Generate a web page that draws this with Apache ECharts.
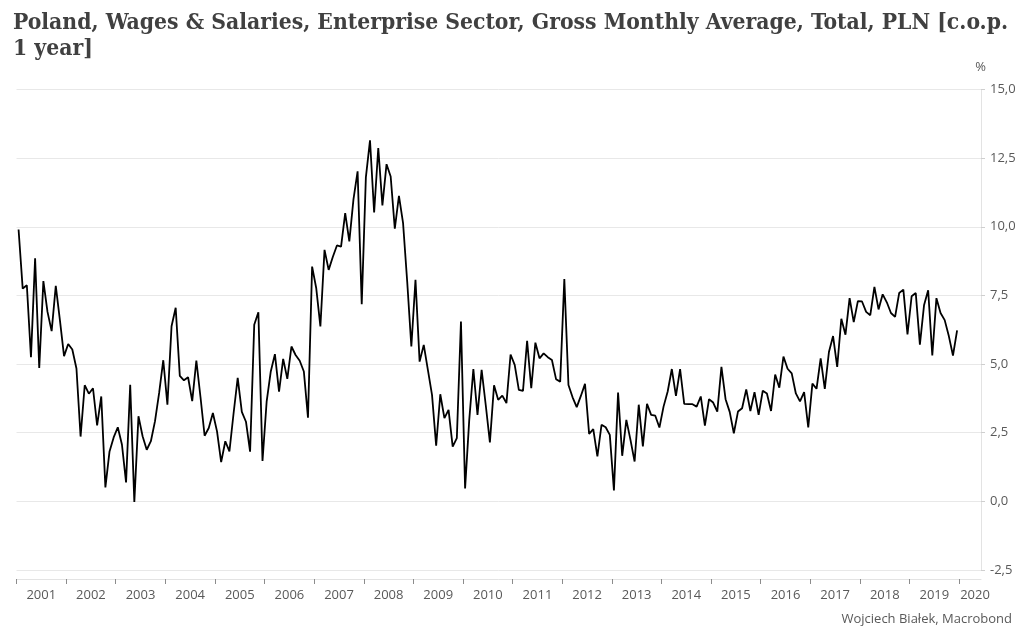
<!DOCTYPE html>
<html><head><meta charset="utf-8">
<script src="https://cdn.jsdelivr.net/npm/echarts@6/dist/echarts.min.js"></script>
<style>html,body{margin:0;padding:0;background:#fff}#c{width:1024px;height:641px}</style>
</head><body><div id="c"></div>
<script>
const titleText = 'Poland, Wages & Salaries, Enterprise Sector, Gross Monthly Average, Total, PLN [c.o.p.\n1 year]';
const sourceText = 'Wojciech Białek, Macrobond';
const unitText = '%';
const startYear = 2001;
const tickYears = [2001,2002,2003,2004,2005,2006,2007,2008,2009,2010,2011,2012,2013,2014,2015,2016,2017,2018,2019,2020];
const labelYears = [2001.5,2002.5,2003.5,2004.5,2005.5,2006.5,2007.5,2008.5,2009.5,2010.5,2011.5,2012.5,2013.5,2014.5,2015.5,2016.5,2017.5,2018.5,2019.5,2020.32];
const yTicks = [-2.5,0,2.5,5,7.5,10,12.5,15];

// monthly values, % y/y
const v2001 = [9.9, 7.75, 7.87, 5.25, 8.85, 4.86, 8.02, 6.9, 6.2, 7.85, 6.6, 5.29];
const v2002 = [5.73, 5.53, 4.84, 2.36, 4.23, 3.92, 4.12, 2.77, 3.82, 0.51, 1.82, 2.33];
const v2003 = [2.70, 2.07, 0.69, 4.25, -0.02, 3.10, 2.37, 1.88, 2.19, 2.92, 3.95, 5.14];
const v2004 = [3.52, 6.38, 7.05, 4.57, 4.41, 4.52, 3.65, 5.13, 3.8, 2.39, 2.67, 3.22];
const v2005 = [2.55, 1.43, 2.19, 1.82, 3.2, 4.50, 3.26, 2.9, 1.81, 6.43, 6.89, 1.47];
const v2006 = [3.63, 4.73, 5.36, 4.0, 5.19, 4.46, 5.64, 5.33, 5.12, 4.73, 3.05, 8.55];
const v2007 = [7.76, 6.37, 9.16, 8.43, 8.9, 9.32, 9.28, 10.50, 9.47, 11.0, 12.02, 7.18];
const v2008 = [11.8, 13.15, 10.52, 12.87, 10.78, 12.28, 11.83, 9.93, 11.13, 10.13, 8.0, 5.64];
const v2009 = [8.07, 5.09, 5.70, 4.79, 3.88, 2.03, 3.90, 3.03, 3.33, 1.99, 2.30, 6.55];
const v2010 = [0.47, 2.96, 4.82, 3.15, 4.79, 3.5, 2.15, 4.23, 3.70, 3.85, 3.58, 5.35];
const v2011 = [4.97, 4.06, 4.02, 5.85, 4.12, 5.78, 5.21, 5.39, 5.25, 5.15, 4.45, 4.36];
const v2012 = [8.10, 4.24, 3.79, 3.43, 3.84, 4.28, 2.46, 2.63, 1.64, 2.79, 2.70, 2.42];
const v2013 = [0.40, 3.96, 1.66, 2.97, 2.24, 1.45, 3.52, 2.0, 3.55, 3.15, 3.12, 2.69];
const v2014 = [3.45, 4.0, 4.82, 3.84, 4.82, 3.55, 3.54, 3.54, 3.45, 3.82, 2.76, 3.72];
const v2015 = [3.6, 3.27, 4.90, 3.72, 3.26, 2.48, 3.27, 3.39, 4.08, 3.29, 3.98, 3.15];
const v2016 = [4.03, 3.93, 3.29, 4.62, 4.14, 5.27, 4.83, 4.66, 3.93, 3.64, 3.98, 2.69];
const v2017 = [4.29, 4.10, 5.21, 4.10, 5.44, 6.02, 4.90, 6.65, 6.07, 7.40, 6.53, 7.29];
const v2018 = [7.28, 6.90, 6.78, 7.81, 6.99, 7.54, 7.25, 6.86, 6.72, 7.59, 7.71, 6.08];
const v2019 = [7.47, 7.59, 5.71, 7.14, 7.69, 5.31, 7.40, 6.86, 6.60, 6.02, 5.31, 6.23];

const values = [].concat(v2001,v2002,v2003,v2004,v2005,v2006,v2007,v2008,v2009,v2010,
  v2011,v2012,v2013,v2014,v2015,v2016,v2017,v2018,v2019);
const seriesData = values.map((v, i) => [startYear + (i + 0.5) / 12, v]);

const gray = '#595959';
const chart = echarts.init(document.getElementById('c'), null, {renderer: 'canvas'});
chart.setOption({
  animation: false,
  backgroundColor: '#ffffff',
  title: {
    text: titleText,
    left: 8, top: 5,
    textStyle: {
      fontFamily: '"DejaVu Serif Condensed", "DejaVu Serif", serif',
      fontWeight: 'bold', fontSize: 22.7, color: '#404040', lineHeight: 26
    }
  },
  graphic: [
    {type: 'text', right: 38, top: 61, style: {text: unitText, font: '13px "Open Sans", sans-serif', fill: gray}},
    {type: 'text', right: 12, top: 613, style: {text: sourceText, font: '13px "Open Sans", sans-serif', fill: gray}}
  ],
  grid: {left: 16.5, right: 43, top: 89.5, bottom: 71, containLabel: false},
  xAxis: {
    type: 'value', min: 2001, max: 2020.44,
    offset: 9,
    axisLine: {show: true, onZero: false, lineStyle: {color: '#e3e3e3', width: 1}},
    axisTick: {show: true, customValues: tickYears, length: 5, lineStyle: {color: '#8c8c8c'}},
    axisLabel: {
      customValues: labelYears, margin: 10, color: gray, fontSize: 13,
      fontFamily: '"Open Sans", sans-serif',
      formatter: v => String(Math.floor(v))
    },
    splitLine: {show: false}
  },
  yAxis: {
    type: 'value', position: 'right', min: -2.5, max: 15, interval: 2.5,
    axisLine: {show: true, lineStyle: {color: '#e3e3e3'}},
    axisTick: {show: true, length: 4, lineStyle: {color: '#cfcfcf'}},
    axisLabel: {
      margin: 9, color: gray, fontSize: 13, fontFamily: '"Open Sans", sans-serif',
      formatter: v => v.toFixed(1).replace('.', ',')
    },
    splitLine: {show: true, lineStyle: {color: '#e8e8e8', width: 1}}
  },
  series: [{
    type: 'line', data: seriesData, showSymbol: false, symbol: 'none',
    lineStyle: {color: '#000000', width: 1.8}, z: 3
  }]
});
</script>
</body></html>
